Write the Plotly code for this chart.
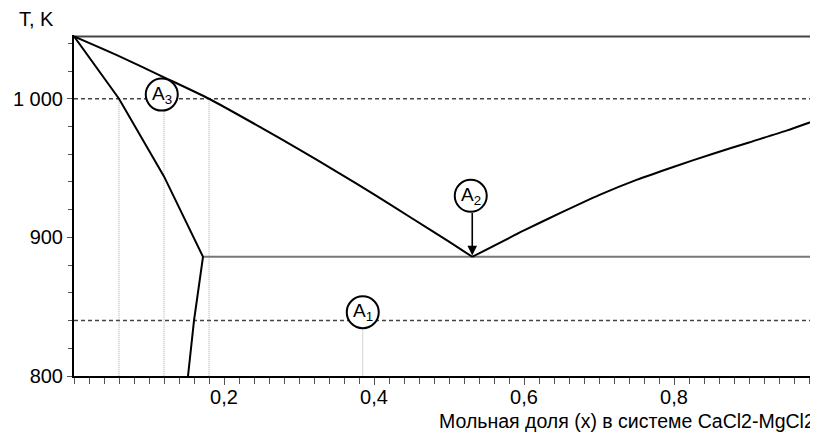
import plotly.graph_objects as go

# ---- data ----
liq_left_x = [0.0, 0.06, 0.12, 0.18, 0.25, 0.30, 0.35, 0.40, 0.45, 0.50, 0.531]
liq_left_T = [1045, 1030.8, 1015.5, 1000, 979, 963.5, 947.5, 931, 914, 897, 886]
liq_right_x = [0.531, 0.6, 0.65, 0.7, 0.75, 0.8, 0.85, 0.9, 0.95, 0.992]
liq_right_T = [886, 905, 918, 930.5, 941.5, 951, 960, 968.5, 977, 985]
solid_x = [0.0, 0.06, 0.12, 0.172, 0.160, 0.152]
solid_T = [1045, 1000, 944, 886, 840, 800]
eut_x = [0.172, 0.992]
eut_T = [886, 886]
top_x = [0.0, 0.992]
top_T = [1045, 1045]
iso_T = [1000, 840]          # dashed isotherms
vert_x = [0.06, 0.12, 0.18]  # dotted verticals under 1000 K
vert_x_A1 = 0.385            # dotted vertical under 840 K
points = {"A3": (0.117, 1003, "3"), "A2": (0.529, 930, "2"), "A1": (0.385, 846, "1")}
eutectic = (0.531, 887)

x_tickvals = [0.2, 0.4, 0.6, 0.8]
x_ticktext = ["0,2", "0,4", "0,6", "0,8"]
y_tickvals = [800, 900, 1000]
y_ticktext = ["800", "900", "1 000"]

fig = go.Figure()
font = "Liberation Sans, Arial, sans-serif"

for T in iso_T:
    fig.add_trace(go.Scatter(x=[0, 0.992], y=[T, T], mode="lines",
                             line=dict(color="#444", width=1.5, dash="4px,3px"),
                             hoverinfo="skip"))
for xv in vert_x:
    fig.add_trace(go.Scatter(x=[xv, xv], y=[1000, 800], mode="lines",
                             line=dict(color="#aaa", width=1, dash="1px,1px"),
                             hoverinfo="skip"))
fig.add_trace(go.Scatter(x=[vert_x_A1, vert_x_A1], y=[840, 800], mode="lines",
                         line=dict(color="#aaa", width=1, dash="1px,1px"),
                         hoverinfo="skip"))
fig.add_trace(go.Scatter(x=top_x, y=top_T, mode="lines",
                         line=dict(color="#444", width=2), hoverinfo="skip"))
fig.add_trace(go.Scatter(x=eut_x, y=eut_T, mode="lines",
                         line=dict(color="#777", width=2), hoverinfo="skip"))
fig.add_trace(go.Scatter(x=liq_left_x, y=liq_left_T, mode="lines",
                         line=dict(color="black", width=2, shape="spline", smoothing=0.6)))
fig.add_trace(go.Scatter(x=liq_right_x, y=liq_right_T, mode="lines",
                         line=dict(color="black", width=2, shape="spline", smoothing=0.6)))
fig.add_trace(go.Scatter(x=solid_x, y=solid_T, mode="lines",
                         line=dict(color="black", width=2)))

r = 16
for name, (cx, cy, sub) in points.items():
    fig.add_shape(type="circle", xref="x", yref="y", xsizemode="pixel", ysizemode="pixel",
                  xanchor=cx, yanchor=cy, x0=-r, x1=r, y0=-r, y1=r,
                  fillcolor="white", line=dict(color="black", width=2), layer="above")
    fig.add_annotation(x=cx, y=cy, text=f"A<sub>{sub}</sub>", showarrow=False,
                       font=dict(size=19, color="black", family=font),
                       xanchor="center", yanchor="middle")

fig.add_annotation(x=eutectic[0], y=eutectic[1], text="", showarrow=True,
                   ax=0, ay=-44, arrowhead=2, arrowsize=1.2, arrowwidth=1.6,
                   arrowcolor="black")

fig.add_annotation(xref="paper", yref="paper", x=-0.077, y=1.047, text="T, K",
                   showarrow=False, xanchor="left", yanchor="middle",
                   font=dict(size=20, color="black", family=font))
fig.add_annotation(xref="paper", yref="paper", x=0.998, y=-0.133,
                   text="Мольная доля (x) в системе CaCl2-MgCl2",
                   showarrow=False, xanchor="right", yanchor="middle",
                   font=dict(size=19.5, color="black", family=font))

fig.update_layout(
    width=810, height=428,
    margin=dict(l=66, r=0, t=27, b=60),
    plot_bgcolor="white", paper_bgcolor="white",
    showlegend=False,
    font=dict(family=font, size=20, color="black"),
    xaxis=dict(range=[0, 0.992], showgrid=False, zeroline=False,
               showline=True, linecolor="black", linewidth=2,
               tickvals=x_tickvals, ticktext=x_ticktext,
               ticks="outside", ticklen=7, tickwidth=1, tickcolor="#555",
               ticklabelstandoff=-5,
               minor=dict(dtick=0.02, tick0=0, ticks="outside", ticklen=6,
                          tickwidth=1, tickcolor="#555")),
    yaxis=dict(range=[800, 1046], showgrid=False, zeroline=False,
               showline=True, linecolor="black", linewidth=2,
               tickvals=y_tickvals, ticktext=y_ticktext,
               ticks="outside", ticklen=5, tickwidth=1, tickcolor="#555",
               minor=dict(dtick=20, tick0=800, ticks="outside", ticklen=4,
                          tickwidth=1, tickcolor="#555")),
)

fig.write_html("out.html")
